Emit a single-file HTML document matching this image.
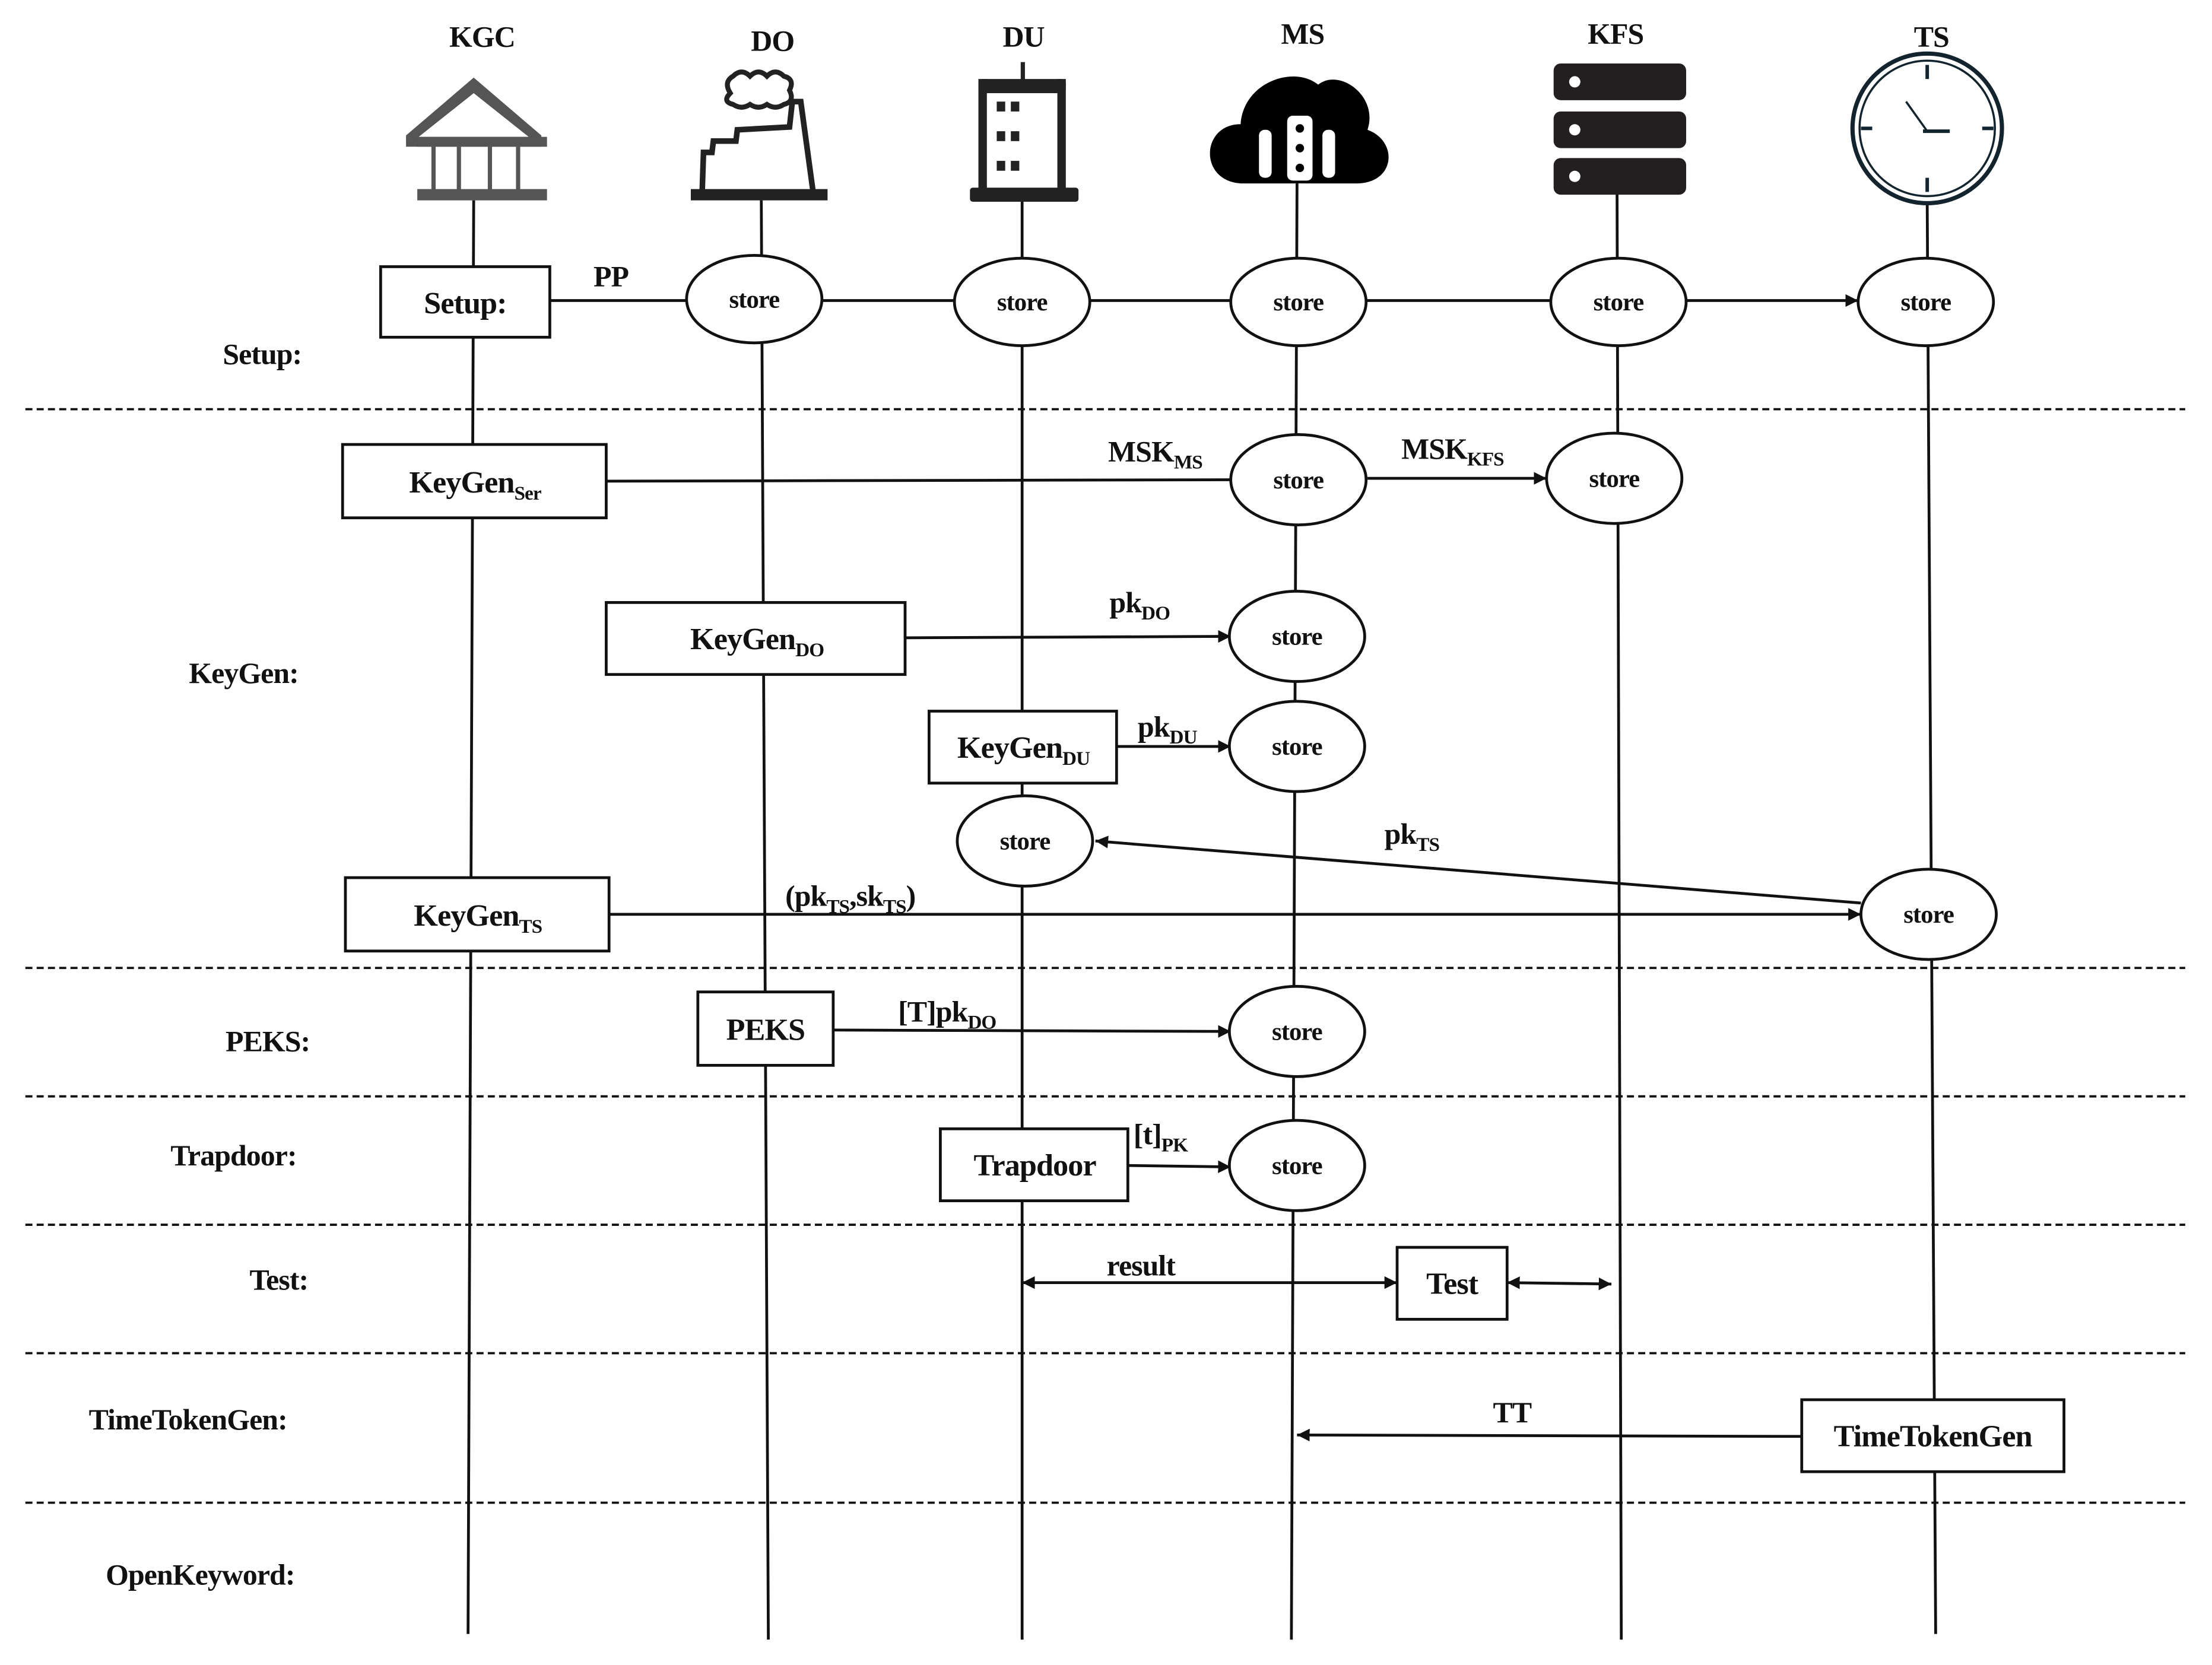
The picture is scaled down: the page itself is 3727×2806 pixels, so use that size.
<!DOCTYPE html>
<html><head><meta charset="utf-8"><style>
html,body{margin:0;padding:0;background:#fff;}
svg{display:block;}
text{font-family:"Liberation Serif",serif;font-weight:bold;fill:#111;letter-spacing:-0.4px;}
</style></head><body>
<svg width="3727" height="2806" viewBox="0 0 1569 1180" preserveAspectRatio="none" xmlns="http://www.w3.org/2000/svg">
<defs>
<marker id="a" viewBox="0 0 10 10" refX="10" refY="5" markerWidth="9" markerHeight="9" markerUnits="userSpaceOnUse" orient="auto-start-reverse"><path d="M0,0 L10,5 L0,10z" fill="#111"/></marker>
</defs>
<rect width="1569" height="1180" fill="#fff"/>
<g font-size="21" text-anchor="middle">
<text x="342" y="33">KGC</text><text x="548" y="36">DO</text><text x="726" y="33">DU</text>
<text x="924" y="31">MS</text><text x="1146" y="31">KFS</text><text x="1370" y="33">TS</text>
</g>
<g stroke="#111" stroke-width="2" fill="none">
<line x1="336" y1="142" x2="332" y2="1158"/>
<line x1="540" y1="142" x2="545" y2="1162"/>
<line x1="725" y1="142" x2="725" y2="1162"/>
<line x1="920" y1="130" x2="916" y2="1162"/>
<line x1="1147" y1="137" x2="1150" y2="1162"/>
<line x1="1367" y1="145" x2="1373" y2="1158"/>
</g>
<g stroke="#111" stroke-width="1.6" stroke-dasharray="5,3">
<line x1="18" y1="290" x2="1550" y2="290"/><line x1="18" y1="686" x2="1550" y2="686"/>
<line x1="18" y1="777" x2="1550" y2="777"/><line x1="18" y1="868" x2="1550" y2="868"/>
<line x1="18" y1="959" x2="1550" y2="959"/><line x1="18" y1="1065" x2="1550" y2="1065"/>
</g>
<g fill="#555">
<path d="M336,55 L384,96 L384,104 L288,104 L288,96Z M336,66 L297,97 L375,97Z" fill-rule="evenodd"/>
<rect x="296" y="97" width="92" height="7"/>
<rect x="306" y="104" width="3" height="32"/><rect x="324" y="104" width="3" height="32"/><rect x="346" y="104" width="3" height="32"/><rect x="366" y="104" width="3" height="32"/>
<rect x="296" y="134" width="92" height="8"/>
</g>
<g fill="none" stroke="#222" stroke-width="4">
<path d="M498,138 L499,108 L505,108 L506,100 L522,100 L523,92 L560,90 L562,72 L568,72 L577,138"/>
<path d="M518,66 q-5,-8 2,-12 q6,-6 12,0 q6,-6 12,0 q6,-6 12,0 q8,2 4,10 q4,8 -4,10 q-6,4 -12,0 q-6,4 -12,0 q-6,4 -12,0 q-8,-2 -2,-8z" stroke-width="3.5"/>
</g>
<rect x="490" y="134" width="97" height="8" fill="#222"/>
<g fill="#222">
<rect x="724" y="44" width="3" height="14"/>
<rect x="694" y="56" width="62" height="10" rx="3"/>
<rect x="694" y="56" width="6" height="80"/><rect x="750" y="56" width="6" height="80"/>
<rect x="688" y="133" width="77" height="10" rx="2"/>
<rect x="707" y="72" width="6" height="7"/><rect x="717" y="72" width="6" height="7"/><rect x="707" y="93" width="6" height="7"/><rect x="717" y="93" width="6" height="7"/><rect x="707" y="114" width="6" height="7"/><rect x="717" y="114" width="6" height="7"/>
</g>
<path d="M880,130 C850,128 852,88 880,88 C882,58 918,46 935,60 C950,48 978,68 970,92 C992,100 990,130 962,130Z" fill="#000"/>
<g fill="#fff"><rect x="893" y="92" width="9" height="34" rx="4"/><rect x="913" y="82" width="18" height="46" rx="4"/><rect x="938" y="92" width="9" height="34" rx="4"/></g>
<g fill="#000"><circle cx="922" cy="91" r="3"/><circle cx="922" cy="105" r="3"/><circle cx="922" cy="119" r="3"/></g>
<g fill="#231f20">
<rect x="1102" y="45" width="94" height="26" rx="5"/><rect x="1102" y="79" width="94" height="26" rx="5"/><rect x="1102" y="112" width="94" height="26" rx="5"/>
</g>
<g fill="#fff"><circle cx="1117" cy="58" r="4"/><circle cx="1117" cy="92" r="4"/><circle cx="1117" cy="125" r="4"/></g>
<circle cx="1367" cy="91" r="53" fill="none" stroke="#13242e" stroke-width="3"/>
<circle cx="1367" cy="91" r="48" fill="none" stroke="#13242e" stroke-width="1.5"/>
<g stroke="#13242e" stroke-width="2.5"><line x1="1367" y1="46" x2="1367" y2="56"/><line x1="1367" y1="126" x2="1367" y2="136"/><line x1="1320" y1="91" x2="1328" y2="91"/><line x1="1406" y1="91" x2="1414" y2="91"/><line x1="1352" y1="72" x2="1367" y2="93" stroke-width="1.5"/><line x1="1364" y1="93" x2="1383" y2="93"/></g>
<g stroke="#111" stroke-width="2" fill="none">
<line x1="390" y1="213" x2="1318" y2="213" marker-end="url(#a)"/>
<line x1="430" y1="341" x2="873" y2="340"/>
<line x1="970" y1="339" x2="1097" y2="339" marker-end="url(#a)"/>
<line x1="642" y1="452" x2="873" y2="451" marker-end="url(#a)"/>
<line x1="792" y1="529" x2="873" y2="529" marker-end="url(#a)"/>
<line x1="1320" y1="640" x2="777" y2="596" marker-end="url(#a)"/>
<line x1="432" y1="648" x2="1320" y2="648" marker-end="url(#a)"/>
<line x1="591" y1="730" x2="873" y2="731" marker-end="url(#a)"/>
<line x1="800" y1="826" x2="873" y2="827" marker-end="url(#a)"/>
<line x1="725" y1="909" x2="991" y2="909" marker-start="url(#a)" marker-end="url(#a)"/>
<line x1="1069" y1="909" x2="1143" y2="910" marker-start="url(#a)" marker-end="url(#a)"/>
<line x1="1278" y1="1018" x2="920" y2="1017" marker-end="url(#a)"/>
</g>
<g fill="#fff" stroke="#111" stroke-width="2">
<ellipse cx="535" cy="212" rx="48" ry="31"/><ellipse cx="725" cy="214" rx="48" ry="31"/><ellipse cx="921" cy="214" rx="48" ry="31"/><ellipse cx="1148" cy="214" rx="48" ry="31"/><ellipse cx="1366" cy="214" rx="48" ry="31"/>
<ellipse cx="921" cy="340" rx="48" ry="32"/><ellipse cx="1145" cy="339" rx="48" ry="32"/>
<ellipse cx="920" cy="451" rx="48" ry="32"/><ellipse cx="920" cy="529" rx="48" ry="32"/>
<ellipse cx="727" cy="596" rx="48" ry="32"/><ellipse cx="1368" cy="648" rx="48" ry="32"/>
<ellipse cx="920" cy="731" rx="48" ry="32"/><ellipse cx="920" cy="826" rx="48" ry="32"/>
</g>
<g font-size="18" text-anchor="middle">
<text x="535" y="218">store</text><text x="725" y="220">store</text><text x="921" y="220">store</text><text x="1148" y="220">store</text><text x="1366" y="220">store</text>
<text x="921" y="346">store</text><text x="1145" y="345">store</text><text x="920" y="457">store</text><text x="920" y="535">store</text>
<text x="727" y="602">store</text><text x="1368" y="654">store</text><text x="920" y="737">store</text><text x="920" y="832">store</text>
</g>
<g fill="#fff" stroke="#111" stroke-width="2">
<rect x="270" y="189" width="120" height="50"/>
<rect x="243" y="315" width="187" height="52"/>
<rect x="430" y="427" width="212" height="51"/>
<rect x="659" y="504" width="133" height="51"/>
<rect x="245" y="622" width="187" height="52"/>
<rect x="495" y="703" width="96" height="52"/>
<rect x="667" y="800" width="133" height="51"/>
<rect x="991" y="884" width="78" height="51"/>
<rect x="1278" y="992" width="186" height="51"/>
</g>
<g font-size="22" text-anchor="middle">
<text x="330" y="222">Setup:</text>
<text x="337" y="349">KeyGen<tspan font-size="14" dy="5">Ser</tspan></text>
<text x="537" y="460">KeyGen<tspan font-size="14" dy="5">DO</tspan></text>
<text x="726" y="537">KeyGen<tspan font-size="14" dy="5">DU</tspan></text>
<text x="339" y="656">KeyGen<tspan font-size="14" dy="5">TS</tspan></text>
<text x="543" y="737">PEKS</text>
<text x="734" y="833">Trapdoor</text>
<text x="1030" y="917">Test</text>
<text x="1371" y="1025">TimeTokenGen</text>
</g>
<g font-size="21">
<text x="421" y="203">PP</text>
<text x="786" y="327">MSK<tspan font-size="14" dy="5">MS</tspan></text>
<text x="994" y="325">MSK<tspan font-size="14" dy="5">KFS</tspan></text>
<text x="787" y="434">pk<tspan font-size="14" dy="5">DO</tspan></text>
<text x="807" y="522">pk<tspan font-size="14" dy="5">DU</tspan></text>
<text x="982" y="598">pk<tspan font-size="14" dy="5">TS</tspan></text>
<text x="557" y="642">(pk<tspan font-size="14" dy="5">TS</tspan><tspan dy="-5">,sk</tspan><tspan font-size="14" dy="5">TS</tspan><tspan dy="-5">)</tspan></text>
<text x="637" y="724">[T]pk<tspan font-size="14" dy="5">DO</tspan></text>
<text x="804" y="811">[t]<tspan font-size="14" dy="5">PK</tspan></text>
<text x="785" y="904">result</text>
<text x="1059" y="1008">TT</text>
</g>
<g font-size="21">
<text x="158" y="258">Setup:</text>
<text x="134" y="484">KeyGen:</text>
<text x="160" y="745">PEKS:</text>
<text x="121" y="826">Trapdoor:</text>
<text x="177" y="914">Test:</text>
<text x="63" y="1013">TimeTokenGen:</text>
<text x="75" y="1123">OpenKeyword:</text>
</g>
</svg>
</body></html>
